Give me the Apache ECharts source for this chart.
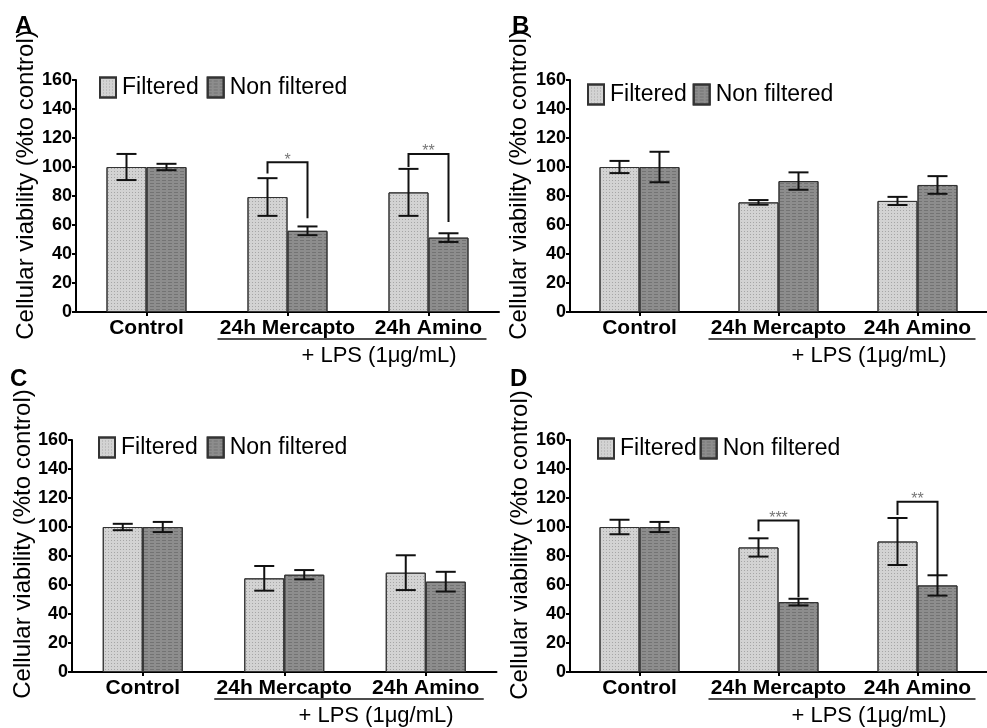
<!DOCTYPE html>
<html>
<head>
<meta charset="utf-8">
<style>
  html, body { margin: 0; padding: 0; background: #fff; }
  #chart { width: 987px; height: 728px; }
</style>
<script src="https://cdn.jsdelivr.net/npm/echarts@6/dist/echarts.min.js"></script>
</head>
<body>
<div id="chart"></div>
<script>
// Cellular viability (% to control), mean and SD per treatment, four experiments
const categories = ['Control', '24h Mercapto', '24h Amino'];
const seriesNames = ['Filtered', 'Non filtered'];
const yTicks = [0, 20, 40, 60, 80, 100, 120, 140, 160];
const panelLetters = ['A', 'B', 'C', 'D'];

const filteredA = [100, 79.3, 82.5];
const filteredSdA = [9, 13, 16.2];
const nonFilteredA = [100, 56, 51.3];
const nonFilteredSdA = [2.2, 3, 3];

const filteredB = [100, 75.6, 76.6];
const filteredSdB = [4.2, 1.6, 2.8];
const nonFilteredB = [100, 90.3, 87.6];
const nonFilteredSdB = [10.5, 6, 6.1];

const filteredC = [100, 64.6, 68.5];
const filteredSdC = [2.2, 8.5, 12];
const nonFilteredC = [100, 67.1, 62.3];
const nonFilteredSdC = [3.5, 3.2, 6.8];

const filteredD = [100, 85.9, 90];
const filteredSdD = [5, 6.3, 16.2];
const nonFilteredD = [100, 48.2, 59.7];
const nonFilteredSdD = [3.5, 2.3, 7];

// significance brackets: category, bracket top, left leg end, right leg end, stars
const bracketCatA = [1, 2];
const bracketTopA = [103.2, 109];
const bracketLeftA = [95.6, 100];
const bracketRightA = [64.6, 62];
const bracketStarsA = ['*', '**'];

const bracketCatD = [1, 2];
const bracketTopD = [104.4, 117.4];
const bracketLeftD = [97, 108.3];
const bracketRightD = [51.6, 66.7];
const bracketStarsD = ['***', '**'];

const lpsLabel = '+ LPS (1\u03bcg/mL)';
const yTitle = 'Cellular viability (%to control)';

const FONT = '"Liberation Sans", Arial, Helvetica, sans-serif';

const panels = [
  { f: filteredA, fsd: filteredSdA, n: nonFilteredA, nsd: nonFilteredSdA,
    br: { cat: bracketCatA, top: bracketTopA, l: bracketLeftA, r: bracketRightA, s: bracketStarsA },
    grid: { left: 76, top: 80, width: 423, height: 232 },
    legend: { left: 99, top: 76, gap: 8 }, letter: [15, 14], title: [26, 185] },
  { f: filteredB, fsd: filteredSdB, n: nonFilteredB, nsd: nonFilteredSdB, br: null,
    grid: { left: 570, top: 80, width: 426, height: 232 },
    legend: { left: 587, top: 83, gap: 6 }, letter: [512, 14], title: [519, 185] },
  { f: filteredC, fsd: filteredSdC, n: nonFilteredC, nsd: nonFilteredSdC, br: null,
    grid: { left: 72, top: 440, width: 424.5, height: 232 },
    legend: { left: 98, top: 436, gap: 9 }, letter: [10, 367], title: [23, 544] },
  { f: filteredD, fsd: filteredSdD, n: nonFilteredD, nsd: nonFilteredSdD,
    br: { cat: bracketCatD, top: bracketTopD, l: bracketLeftD, r: bracketRightD, s: bracketStarsD },
    grid: { left: 570, top: 440, width: 426, height: 232 },
    legend: { left: 597, top: 437, gap: 3 }, letter: [510, 367], title: [520, 545] }
];

const BAR_W = 40;
const CAP = 10;

const lightStyle = {
  color: '#d3d3d3', borderColor: '#333', borderWidth: 1,
  decal: { symbol: 'rect', symbolSize: 1, color: 'rgba(110,110,110,0.45)', dashArrayX: [1, 2], dashArrayY: [1, 2] }
};
const darkStyle = {
  color: '#8d8d8d', borderColor: '#333', borderWidth: 1,
  decal: { symbol: 'rect', symbolSize: 1, color: 'rgba(70,70,70,0.35)', dashArrayX: [4, 2], dashArrayY: [1, 2] }
};

function errorSeries(p, means, sds, side) {
  return {
    type: 'custom', xAxisIndex: p, yAxisIndex: p, z: 5, silent: true,
    data: means.map((m, i) => [i, m, sds[i]]),
    renderItem: function (params, api) {
      const c = api.value(0), m = api.value(1), sd = api.value(2);
      const hi = api.coord([c, m + sd]);
      const lo = api.coord([c, m - sd]);
      const x = hi[0] + side * BAR_W / 2;
      const st = { stroke: '#111', lineWidth: 2 };
      return { type: 'group', children: [
        { type: 'line', shape: { x1: x, y1: hi[1], x2: x, y2: lo[1] }, style: st },
        { type: 'line', shape: { x1: x - CAP, y1: hi[1], x2: x + CAP, y2: hi[1] }, style: st },
        { type: 'line', shape: { x1: x - CAP, y1: lo[1], x2: x + CAP, y2: lo[1] }, style: st }
      ]};
    }
  };
}

function bracketSeries(p, br) {
  return {
    type: 'custom', xAxisIndex: p, yAxisIndex: p, z: 6, silent: true, clip: false,
    data: br.cat.map((c, i) => [c, br.top[i], br.l[i], br.r[i], i]),
    renderItem: function (params, api) {
      const c = api.value(0);
      const top = api.coord([c, api.value(1)]);
      const l = api.coord([c, api.value(2)]);
      const r = api.coord([c, api.value(3)]);
      const xl = top[0] - BAR_W / 2, xr = top[0] + BAR_W / 2;
      const st = { stroke: '#111', lineWidth: 2 };
      return { type: 'group', children: [
        { type: 'polyline', shape: { points: [[xl, l[1]], [xl, top[1]], [xr, top[1]], [xr, r[1]]] }, style: Object.assign({ fill: null }, st) },
        { type: 'text', style: { text: br.s[api.value(4)], x: top[0], y: top[1] + 6, align: 'center', verticalAlign: 'bottom',
          fill: '#777', font: '16px ' + FONT } }
      ]};
    }
  };
}

function lpsSeries(p) {
  return {
    type: 'custom', xAxisIndex: p, yAxisIndex: p, z: 6, silent: true, clip: false,
    data: [[0, 0]],
    renderItem: function (params, api) {
      const a = api.coord([1, 0]);
      const b = api.coord([2, 0]);
      return { type: 'group', children: [
        { type: 'line', shape: { x1: a[0] - 70, y1: a[1] + 27, x2: b[0] + 58, y2: a[1] + 27 }, style: { stroke: '#111', lineWidth: 1.5 } },
        { type: 'text', style: { text: lpsLabel, x: (a[0] + b[0]) / 2 + 21, y: a[1] + 44, align: 'center', verticalAlign: 'middle',
          fill: '#000', font: '22px ' + FONT } }
      ]};
    }
  };
}

const grids = [], xAxes = [], yAxes = [], series = [], legends = [], graphics = [];

panels.forEach((pn, p) => {
  grids.push(Object.assign({ containLabel: false }, pn.grid));
  xAxes.push({
    type: 'category', gridIndex: p, data: categories,
    axisLine: { show: true, lineStyle: { color: '#000', width: 2 } },
    axisTick: { show: true, alignWithLabel: true, length: 4, lineStyle: { color: '#000', width: 2 } },
    axisLabel: { interval: 0, hideOverlap: false, color: '#000', fontFamily: FONT, fontWeight: 'bold', fontSize: 21, margin: 6 },
    splitLine: { show: false }
  });
  yAxes.push({
    type: 'value', gridIndex: p, min: yTicks[0], max: yTicks[yTicks.length - 1], interval: yTicks[1] - yTicks[0],
    axisLine: { show: true, lineStyle: { color: '#000', width: 2 } },
    axisTick: { show: true, length: 4, lineStyle: { color: '#000', width: 2 } },
    axisLabel: { color: '#000', fontFamily: FONT, fontWeight: 'bold', fontSize: 18, margin: 4 },
    splitLine: { show: false }
  });
  series.push({
    name: seriesNames[0], type: 'bar', xAxisIndex: p, yAxisIndex: p, data: pn.f,
    barWidth: BAR_W, barGap: '0%', itemStyle: lightStyle, silent: true
  });
  series.push({
    name: seriesNames[1], type: 'bar', xAxisIndex: p, yAxisIndex: p, data: pn.n,
    barWidth: BAR_W, barGap: '0%', itemStyle: darkStyle, silent: true
  });
  series.push(errorSeries(p, pn.f, pn.fsd, -1));
  series.push(errorSeries(p, pn.n, pn.nsd, 1));
  if (pn.br) series.push(bracketSeries(p, pn.br));
  series.push(lpsSeries(p));

  legends.push({
    data: seriesNames, left: pn.legend.left, top: pn.legend.top, orient: 'horizontal',
    icon: 'rect', itemWidth: 16, itemHeight: 20, itemGap: pn.legend.gap, padding: 0,
    selectedMode: false,
    textStyle: { color: '#000', fontFamily: FONT, fontSize: 23, padding: [0, 0, 0, 1] }
  });

  graphics.push({
    type: 'text', left: pn.letter[0], top: pn.letter[1],
    style: { text: panelLetters[p], fill: '#000', font: 'bold 24px ' + FONT }
  });
  graphics.push({
    type: 'text', x: pn.title[0], y: pn.title[1], rotation: Math.PI / 2,
    style: { text: yTitle, fill: '#000', font: '24px ' + FONT, align: 'center', verticalAlign: 'middle' }
  });
});

const chart = echarts.init(document.getElementById('chart'), null, { renderer: 'canvas' });
chart.setOption({
  animation: false,
  backgroundColor: '#fff',
  grid: grids,
  xAxis: xAxes,
  yAxis: yAxes,
  legend: legends,
  series: series,
  graphic: graphics
});
</script>
</body>
</html>
